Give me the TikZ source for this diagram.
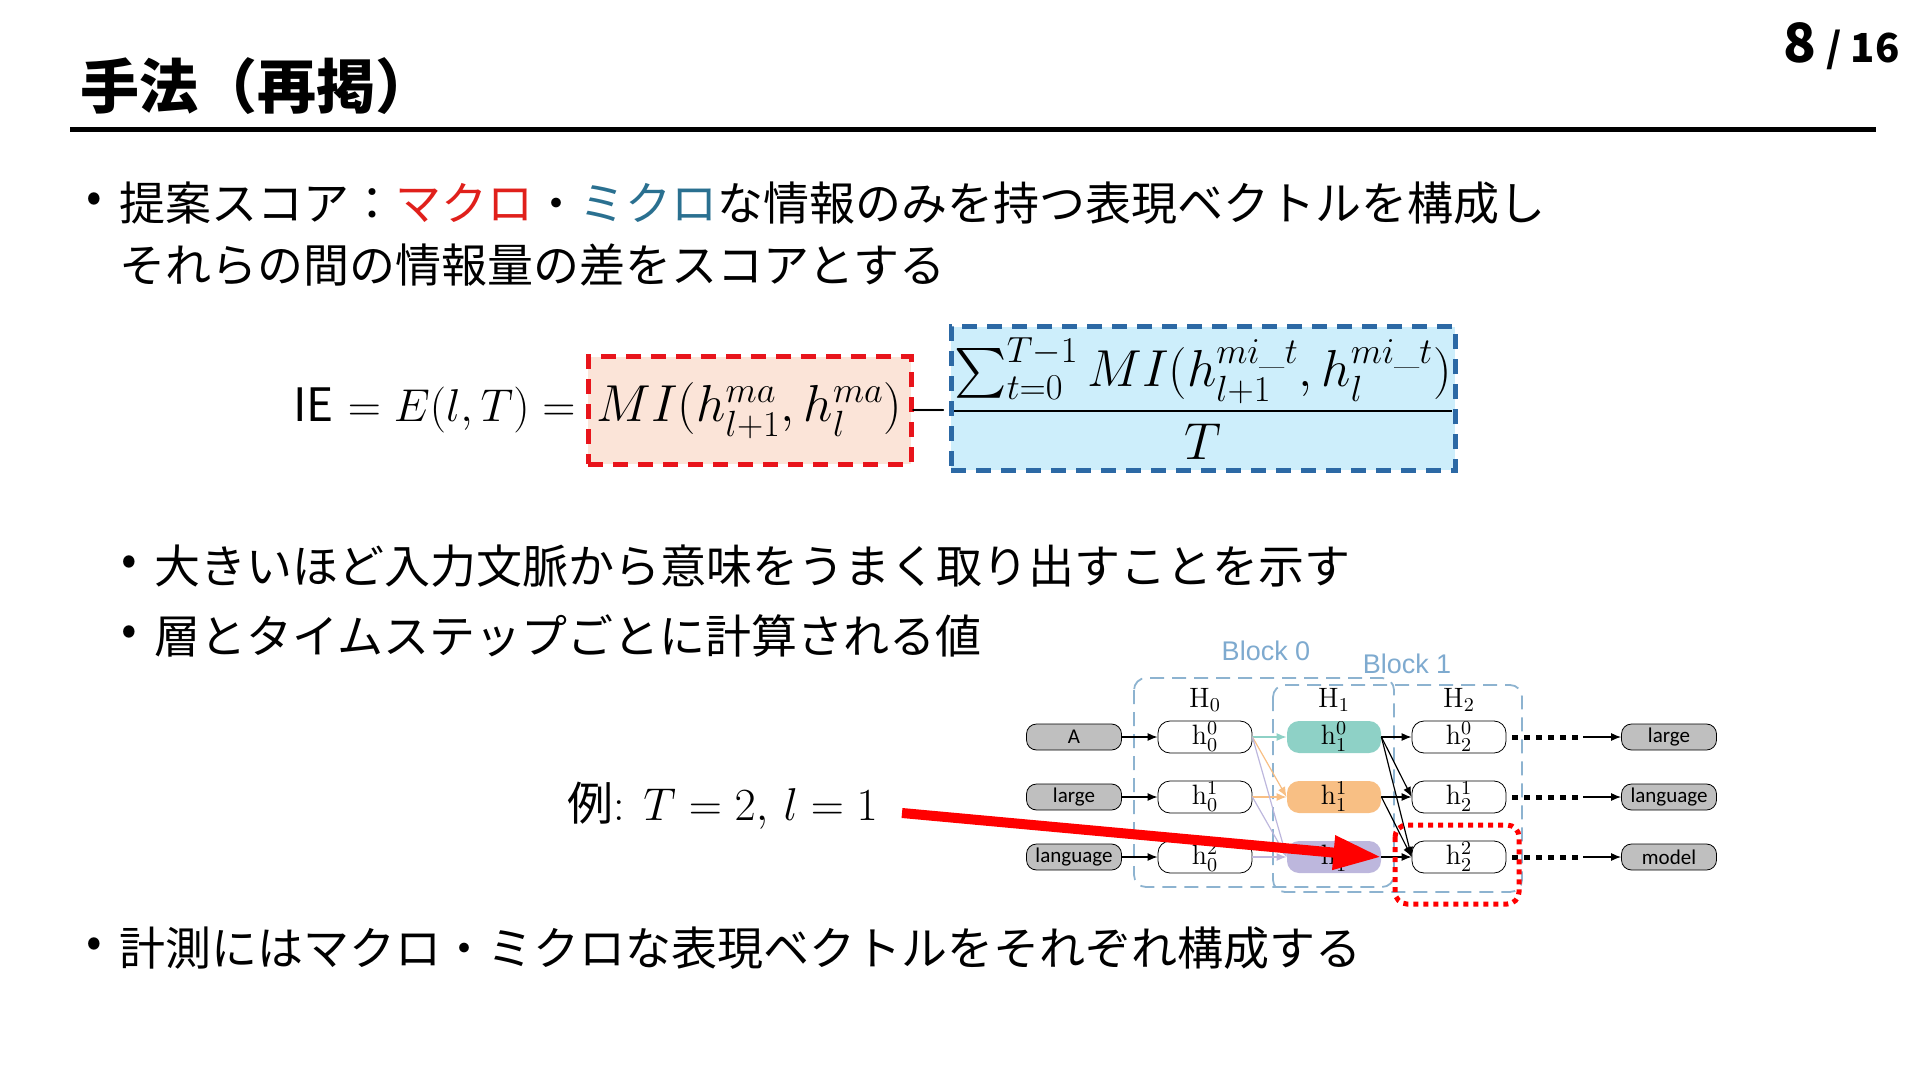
\documentclass[tikz,border=0pt]{standalone}
\usepackage{fix-cm}
\usepackage{amsmath}
\usepackage{fontspec}
\usepackage{tikz}
\usetikzlibrary{arrows.meta}
\newfontfamily\jp{Noto Sans CJK JP}
\newfontfamily\labfont{Carlito}
\newfontfamily\blkfont{Liberation Sans}
\definecolor{macro}{HTML}{E0201B}
\definecolor{micro}{HTML}{2A7090}
\definecolor{mafill}{HTML}{FBE4D8}
\definecolor{madraw}{HTML}{E8141B}
\definecolor{mifill}{HTML}{CDEEFB}
\definecolor{midraw}{HTML}{2C69A5}
\definecolor{tokgray}{HTML}{BFBFBF}
\definecolor{tealc}{HTML}{8ED1C6}
\definecolor{orangec}{HTML}{F8BF84}
\definecolor{lavc}{HTML}{BDB7DD}
\definecolor{blkblue}{HTML}{8DB3D0}
\definecolor{blklab}{HTML}{7EAACF}

\begin{document}
\begin{tikzpicture}[x=0.5pt,y=-0.5pt,
    body/.style={anchor=west, inner sep=0pt, font=\jp\fontsize{23}{28}\selectfont},
    tok/.style={draw, rounded corners=5pt, fill=tokgray, minimum width=47.5pt, minimum height=13pt, inner sep=0pt, font=\labfont\fontsize{10.5}{12}\selectfont},
    hid/.style={draw, rounded corners=6pt, fill=white, minimum width=47pt, minimum height=16pt, inner sep=0pt, font=\fontsize{14}{16}\selectfont},
    blk/.style={draw=blkblue, dash pattern=on 7pt off 4pt, line width=0.9pt, rounded corners=6pt},
    conn/.style={-{Latex[length=5pt,width=4pt]}, line width=0.6pt},
    dots/.style={line width=2.5pt, dash pattern=on 3pt off 3pt}]
\useasboundingbox (0,0) rectangle (1920,1080);

\node[anchor=west, inner sep=0pt, font=\jp\bfseries\fontsize{29.5}{34}\selectfont] (title) at (80,86) {手法（再掲）};
\draw[line width=2.5pt] (70,130) -- (1876,130);
\node[anchor=base east, inner sep=0pt, font=\jp\bfseries] (page) at (1900,63) {{\fontsize{27}{32}\selectfont 8}\hspace{5pt}{\fontsize{20}{24}\selectfont / 16}};

\node[body] (b1) at (86,203) {•};
\node[body] (l1) at (119,203) {提案スコア：{\color{macro}マクロ}・{\color{micro}ミクロ}な情報のみを持つ表現ベクトルを構成し};
\node[body] (l2) at (119,265) {それらの間の情報量の差をスコアとする};
\node[body] (b2) at (121,566) {•};
\node[body] (l3) at (154,566) {大きいほど入力文脈から意味をうまく取り出すことを示す};
\node[body] (b3) at (121,636) {•};
\node[body] (l4) at (154,636) {層とタイムステップごとに計算される値};
\node[body] (b4) at (86,948) {•};
\node[body] (l5) at (119,948) {計測にはマクロ・ミクロな表現ベクトルをそれぞれ構成する};

\node[anchor=west, inner sep=0pt, font=\fontsize{23}{28}\selectfont] (ie) at (293,410) {{\jp IE} $= E(l,T)=$};
\node[draw=madraw, fill=mafill, line width=2.5pt, dash pattern=on 7.5pt off 5pt, minimum width=161.5pt, minimum height=53.5pt, inner sep=0pt, font=\fontsize{26}{30}\selectfont] (ma) at (749.5,410.5) {$MI(h^{ma}_{l+1},h^{ma}_{l})$};
\node[inner sep=0pt, font=\fontsize{26}{30}\selectfont] (minus) at (929,410) {$-$};
\node[draw=midraw, fill=mifill, line width=2.5pt, dash pattern=on 7.5pt off 5pt, minimum width=252pt, minimum height=71.5pt, inner sep=0pt, font=\fontsize{26}{30}\selectfont] (mi) at (1203,398.5) {$\displaystyle\frac{\sum_{t=0}^{T-1} MI(h^{mi\_t}_{l+1},h^{mi\_t}_{l})}{T}$};

\node[anchor=west, inner sep=0pt, font=\fontsize{23}{28}\selectfont] (ex) at (567,806) {{\jp 例}: $T = 2,\,l = 1$};

\draw[blk] (1134,678) rectangle (1394,887);
\draw[blk] (1273,685) rectangle (1522,892);
\node[font=\blkfont\fontsize{13.5}{16}\selectfont, text=blklab] (blk0) at (1266,651) {Block 0};
\node[font=\blkfont\fontsize{13.5}{16}\selectfont, text=blklab] (blk1) at (1407,664) {Block 1};
\node[font=\fontsize{14}{16}\selectfont] (H0) at (1205,700) {$\mathrm{H}_0$};
\node[font=\fontsize{14}{16}\selectfont] (H1) at (1334,700) {$\mathrm{H}_1$};
\node[font=\fontsize{14}{16}\selectfont] (H2) at (1459,700) {$\mathrm{H}_2$};

\node[hid, draw=none, fill=tealc] (hb0) at (1334,737) {$\mathrm{h}_1^0$};
\node[hid, draw=none, fill=orangec] (hb1) at (1334,797) {$\mathrm{h}_1^1$};
\node[hid, draw=none, fill=lavc] (hb2) at (1334,857) {$\mathrm{h}_1^2$};
\foreach \i/\y/\a/\b in {0/737/A/large,1/797/large/language,2/857/language/model}{
  \node[tok] (in\i) at (1074,\y) {\a};
  \node[hid] (ha\i) at (1205,\y) {$\mathrm{h}_0^{\i}$};
  \node[hid] (hc\i) at (1459,\y) {$\mathrm{h}_2^{\i}$};
  \node[tok] (out\i) at (1669,\y) {\b};
  \coordinate (dd\i) at (1583,\y);
  \draw[conn] (in\i) -- (ha\i);
  \draw[dots] ([xshift=3pt]hc\i.east) -- (dd\i);
  \draw[conn] (dd\i) -- (out\i);
}
\draw[conn, tealc] (ha0.east) -- (hb0.west);
\foreach \j in {0,1} \draw[conn, orangec] (ha\j.east) -- (hb1.west);
\foreach \j in {0,1,2} \draw[conn, lavc] (ha\j.east) -- (hb2.west);
\foreach \j in {0,1,2} \draw[conn] (hb0.east) -- (hc\j.west);
\foreach \j in {1,2} \draw[conn] (hb1.east) -- (hc\j.west);
\draw[conn] (hb2.east) -- (hc2.west);

\draw[red, line width=2.5pt, dash pattern=on 2.5pt off 2.5pt, rounded corners=6pt] (1395,825) rectangle (1519,904);
\coordinate (exs) at (902,813);
\draw[red, line width=5pt, -{Triangle[length=24pt,width=16pt]}] (exs) -- (hb2.east);
\end{tikzpicture}
\end{document}
